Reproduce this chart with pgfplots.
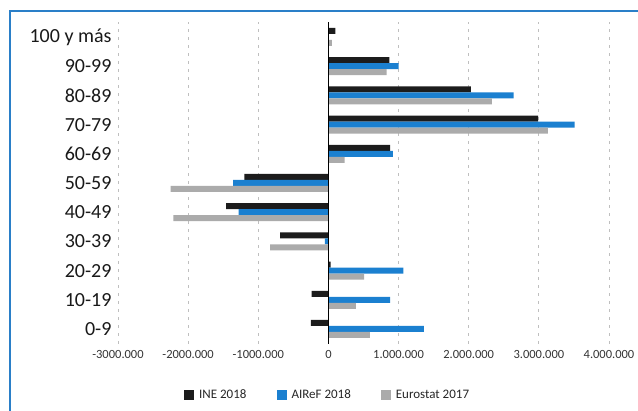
\documentclass[border=0pt]{standalone}
\usepackage{fontspec}
\setmainfont{Carlito}
\usepackage{pgfplots}
\pgfplotsset{compat=1.18}

\definecolor{ineblack}{HTML}{1C1C1C}
\definecolor{airefblue}{HTML}{1B80D0}
\definecolor{eurogray}{HTML}{ABABAB}
\definecolor{framblue}{HTML}{2A7FC8}

\begin{document}
\begin{tikzpicture}[x=1pt,y=1pt]
% outer frame: only its left and top edges lie inside the picture
\draw[framblue, line width=2pt] (-108,-67.4) -- (-108,332.6) -- (520,332.6);
\begin{axis}[
    at={(0,0)}, anchor=south west,
    scale only axis,
    width=491pt, height=321.2pt,
    xbar=0pt, bar width=6pt,
    xmin=-3000, xmax=4000,
    ymin=-0.5, ymax=10.5,
    xtick={-3000,-2000,...,4000},
    xticklabels={-3000.000,-2000.000,-1000.000,0,1.000.000,2.000.000,3.000.000,4.000.000},
    ytick={0,...,10},
    yticklabels={0-9,10-19,20-29,30-39,40-49,50-59,60-69,70-79,80-89,90-99,100 y más},
    xticklabel style={font=\fontsize{12.5}{14}\selectfont, text=black!80, yshift=-3pt},
    yticklabel style={font=\fontsize{20}{22}\selectfont, text=black!90, xshift=-3pt},
    xmajorgrids,
    grid style={black!25, dash pattern=on 3pt off 5pt, line width=0.8pt},
    axis line style={draw=none},
    major tick length=0pt,
    legend style={at={(0.427,-0.159)}, anchor=center, draw=none, fill=none,
        legend columns=3, font=\fontsize{13}{15}\selectfont, text=black!85,
        /tikz/every odd column/.append style={column sep=3pt},
        /tikz/every even column/.append style={column sep=28pt}},
    legend image code/.code={\fill[#1] (0pt,-5pt) rectangle (10pt,5pt);},
]
\addplot[fill=ineblack, draw=none, bar shift=6pt] coordinates {
    (-250,0) (-240,1) (30,2) (-690,3) (-1460,4) (-1200,5)
    (880,6) (2990,7) (2030,8) (870,9) (100,10)};
\addplot[fill=airefblue, draw=none, bar shift=0pt] coordinates {
    (1360,0) (880,1) (1070,2) (-50,3) (-1280,4) (-1360,5)
    (920,6) (3510,7) (2640,8) (1000,9) (0,10)};
\addplot[fill=eurogray, draw=none, bar shift=-6pt] coordinates {
    (590,0) (390,1) (510,2) (-830,3) (-2210,4) (-2250,5)
    (230,6) (3130,7) (2330,8) (830,9) (50,10)};
\legend{INE 2018, AIReF 2018, Eurostat 2017}
\draw[black, line width=1pt] (axis cs:0,-0.5) -- (axis cs:0,10.5);
\end{axis}
\pgfresetboundingbox
\path (-118,-67.4) rectangle (520,343.6);
\end{tikzpicture}
\end{document}
